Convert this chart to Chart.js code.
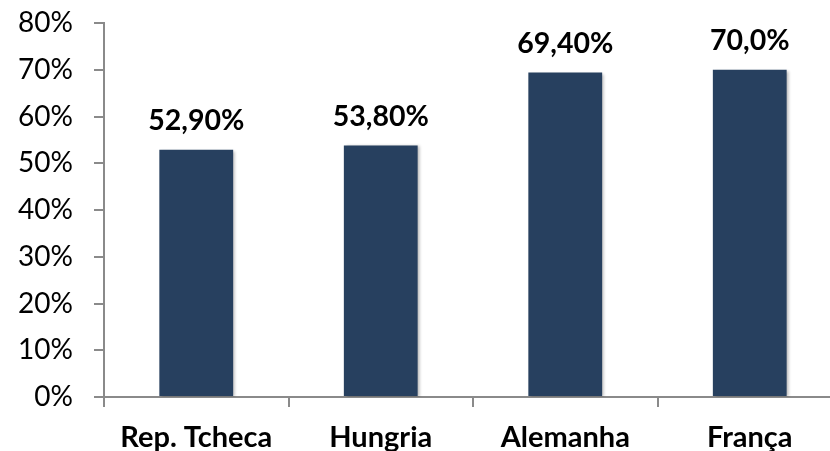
<!DOCTYPE html>
<html>
<head>
<meta charset="utf-8">
<script src="https://cdn.jsdelivr.net/npm/chart.js@4/dist/chart.umd.min.js"></script>
<style>
  html, body { margin: 0; padding: 0; background: #fff; overflow: hidden; }
  #wrap { position: relative; width: 860px; height: 451px; }
</style>
</head>
<body>
<div id="wrap"><canvas id="chart"></canvas></div>
<script>
const paises = ["Rep. Tcheca", "Hungria", "Alemanha", "França"];
const taxas = [52.9, 53.8, 69.4, 70.0];
const casasDecimais = [2, 2, 2, 1];
const yTicks = [0, 10, 20, 30, 40, 50, 60, 70, 80];

const AZUL = "#27405f";
const CINZA = "#8a8a8a";
const FONTE = "Lato, 'Open Sans', sans-serif";

function fmt(v, d) {
  return v.toFixed(d).replace(".", ",") + "%";
}

// rótulos em negrito acima de cada barra
const valueLabels = {
  id: "valueLabels",
  afterDatasetsDraw(chart) {
    const ctx = chart.ctx;
    const meta = chart.getDatasetMeta(0);
    ctx.save();
    ctx.font = "bold 28.5px " + FONTE;
    ctx.fillStyle = "#000";
    ctx.textAlign = "center";
    ctx.textBaseline = "middle";
    meta.data.forEach((bar, i) => {
      const { x, y } = bar.getProps(["x", "y"], true);
      ctx.fillText(fmt(taxas[i], casasDecimais[i]), x, y - 29);
    });
    ctx.restore();
  }
};

// sombra leve nas barras
const barShadow = {
  id: "barShadow",
  beforeDatasetDraw(chart) {
    const ctx = chart.ctx;
    ctx.save();
    ctx.shadowColor = "rgba(0,0,0,0.28)";
    ctx.shadowBlur = 3;
    ctx.shadowOffsetX = 2;
    ctx.shadowOffsetY = 1;
  },
  afterDatasetDraw(chart) {
    chart.ctx.restore();
  }
};

new Chart(document.getElementById("chart"), {
  type: "bar",
  data: {
    labels: paises,
    datasets: [{
      data: taxas,
      backgroundColor: AZUL,
      borderWidth: 0,
      barPercentage: 0.5,
      categoryPercentage: 0.8
    }]
  },
  options: {
    responsive: true,
    maintainAspectRatio: false,
    animation: false,
    devicePixelRatio: 1,
    layout: { padding: { top: 23, right: 18, bottom: 0, left: 0 } },
    plugins: {
      legend: { display: false },
      tooltip: { enabled: false }
    },
    scales: {
      x: {
        grid: {
          display: true,
          drawOnChartArea: false,
          drawTicks: true,
          tickLength: 10,
          color: CINZA,
          lineWidth: 2
        },
        border: { color: CINZA, width: 2 },
        ticks: {
          color: "#000",
          padding: 13,
          font: { family: FONTE, size: 29, weight: "bold" }
        },
        afterFit(scale) {
          scale.height = 54;
          scale.paddingLeft = 0;
          scale.paddingRight = 0;
        }
      },
      y: {
        min: 0,
        max: 80,
        afterBuildTicks(scale) {
          scale.ticks = yTicks.map(v => ({ value: v }));
        },
        grid: {
          display: true,
          drawOnChartArea: false,
          drawTicks: true,
          tickLength: 10,
          color: CINZA,
          lineWidth: 2
        },
        border: { color: CINZA, width: 2 },
        ticks: {
          color: "#000",
          padding: 21,
          font: { family: FONTE, size: 28 },
          callback: v => v + "%"
        },
        afterFit(scale) {
          scale.width = 104;
          scale.paddingTop = 0;
          scale.paddingBottom = 0;
        }
      }
    }
  },
  plugins: [barShadow, valueLabels]
});
</script>
</body>
</html>
